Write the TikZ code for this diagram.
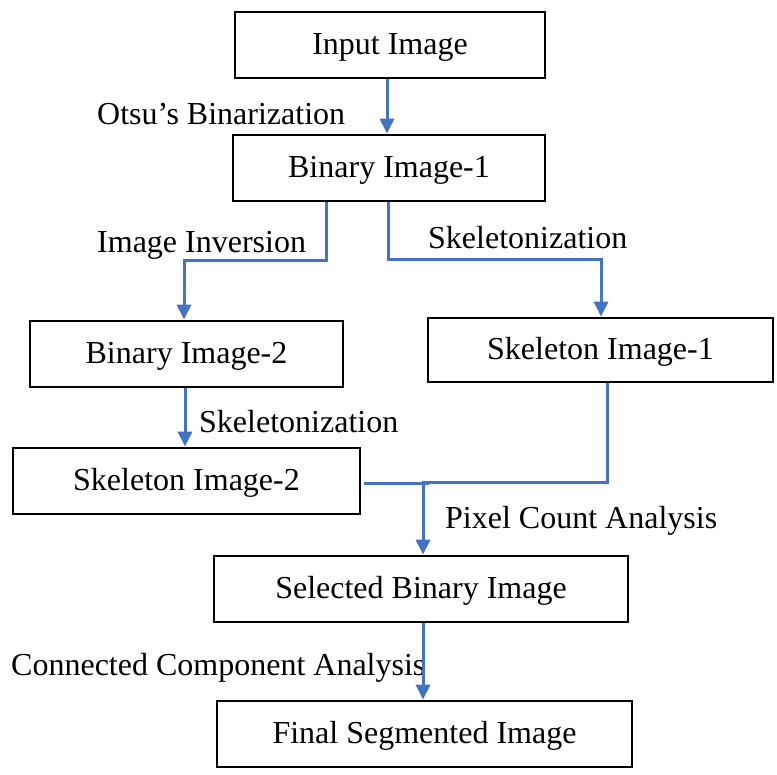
\documentclass[tikz,border=0pt]{standalone}
\usepackage{fontspec}
\setmainfont{Liberation Serif}
\usetikzlibrary{arrows.meta}
\definecolor{flow}{HTML}{4472C4}
\begin{document}
\begin{tikzpicture}[x=1pt,y=-1pt,
  box/.style={draw=black,line width=2.7pt,inner sep=0pt,text height=24pt,text depth=5pt,font=\fontsize{32}{38}\selectfont},
  lbl/.style={inner sep=0pt,anchor=base west,font=\fontsize{32}{38}\selectfont},
  conn/.style={draw=flow,line width=3pt},
  arr/.style={conn,-{Triangle[width=14pt,length=15pt]}}]
\useasboundingbox[fill=white] (0,0) rectangle (777,775);
% boxes
\node[box,minimum width=310pt,minimum height=66pt] (in) at (390,45) {Input Image};
\node[box,minimum width=312pt,minimum height=66pt] (b1) at (389,168) {Binary Image-1};
\node[box,minimum width=313pt,minimum height=66pt] (b2) at (186.5,354) {Binary Image-2};
\node[box,minimum width=345pt,minimum height=64pt] (s1) at (600.5,350) {Skeleton Image-1};
\node[box,minimum width=347pt,minimum height=66pt] (s2) at (186.5,481) {Skeleton Image-2};
\node[box,minimum width=414pt,minimum height=66pt] (sel) at (421,589) {Selected Binary Image};
\node[box,minimum width=415pt,minimum height=66pt] (fin) at (424.5,734) {Final Segmented Image};
% labels
\node[lbl] (l1) at (97,125) {Otsu’s Binarization};
\node[lbl] (l2) at (97,253) {Image Inversion};
\node[lbl] (l3) at (428,249) {Skeletonization};
\node[lbl] (l4) at (199,433) {Skeletonization};
\node[lbl] (l5) at (445,529) {Pixel Count Analysis};
\node[lbl] (l6) at (11,675) {Connected Component Analysis};
% bend coordinates
\coordinate (k0) at (387,0);
\coordinate (k1) at (326,261);
\coordinate (k2) at (184,261);
\coordinate (k3) at (388,260);
\coordinate (k4) at (601,260);
\coordinate (k5) at (185,0);
\coordinate (k6) at (607,483);
\coordinate (k7) at (423,483);
\coordinate (k8) at (429,484);
% connectors
\draw[arr] (in.south -| k0) -- (b1.north -| k0);
\draw[arr] (b1.south -| k1) -- (k1) -- (k2) -- (b2.north -| k2);
\draw[arr] (b1.south -| k3) -- (k3) -- (k4) -- (s1.north -| k4);
\draw[arr] (b2.south -| k5) -- (s2.north -| k5);
\draw[conn] ([xshift=3pt]s2.east |- k8) -- (k8);
\draw[arr] (s1.south -| k6) -- (k6) -- (k7) -- (sel.north -| k7);
\draw[arr] (sel.south -| k7) -- (fin.north -| k7);
\end{tikzpicture}
\end{document}
